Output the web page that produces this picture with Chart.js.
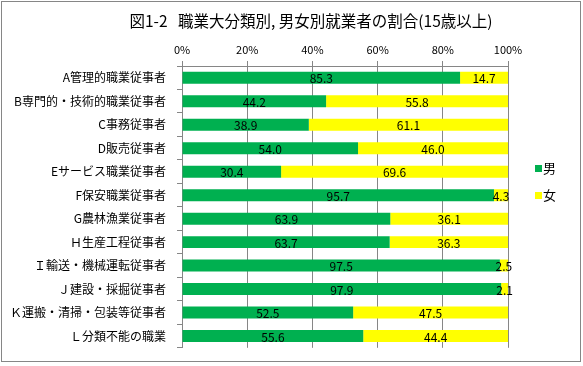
<!DOCTYPE html>
<html>
<head>
  <meta charset="UTF-8">
  <title>職業大分類別 男女別就業者の割合</title>
  <style>
    body {
      margin: 0;
      background: #fff;
    }
    #chart {
      display: block;
    }
  </style>
  <script src="https://cdn.jsdelivr.net/npm/chart.js"></script>
</head>
<body>
  <canvas id="chart" width="583" height="366"></canvas>
  <script>
    const categories = [
      'A管理的職業従事者',
      'B専門的・技術的職業従事者',
      'C事務従事者',
      'D販売従事者',
      'Eサービス職業従事者',
      'F保安職業従事者',
      'G農林漁業従事者',
      'Ｈ生産工程従事者',
      'Ｉ輸送・機械運転従事者',
      'Ｊ建設・採掘従事者',
      'Ｋ運搬・清掃・包装等従事者',
      'Ｌ分類不能の職業'
    ];
    const male = [85.3, 44.2, 38.9, 54.0, 30.4, 95.7, 63.9, 63.7, 97.5, 97.9, 52.5, 55.6];
    const female = [14.7, 55.8, 61.1, 46.0, 69.6, 4.3, 36.1, 36.3, 2.5, 2.1, 47.5, 44.4];
    const tickLabels = ['0%', '20%', '40%', '60%', '80%', '100%'];

    const FONT = '"Noto Sans CJK JP", "Noto Sans", sans-serif';
    const GRID = '#868686';

    // value labels in the middle of each segment
    const valueLabels = {
      id: 'valueLabels',
      afterDatasetsDraw(chart) {
        const ctx = chart.ctx;
        ctx.save();
        ctx.font = '12px ' + FONT;
        ctx.fillStyle = '#000';
        ctx.textAlign = 'center';
        ctx.textBaseline = 'middle';
        chart.data.datasets.forEach((ds, i) => {
          chart.getDatasetMeta(i).data.forEach((bar, j) => {
            const cx = (bar.x + bar.base) / 2;
            ctx.fillText(ds.data[j].toFixed(1), cx, bar.y + 1);
          });
        });
        ctx.restore();
      }
    };

    // simple legend on the right + outer frame
    const sideLegend = {
      id: 'sideLegend',
      afterDraw(chart) {
        const ctx = chart.ctx;
        ctx.save();
        ctx.strokeStyle = GRID;
        ctx.lineWidth = 1;
        ctx.strokeRect(1.5, 1.5, 579, 360);
        ctx.font = '13px ' + FONT;
        ctx.textBaseline = 'middle';
        ctx.textAlign = 'left';
        chart.data.datasets.forEach((ds, i) => {
          const y = 165 + i * 27;
          ctx.fillStyle = ds.backgroundColor;
          ctx.fillRect(535, y, 7, 7);
          ctx.fillStyle = '#000';
          ctx.fillText(ds.label, 543, y + 3.5);
        });
        ctx.restore();
      }
    };

    new Chart(document.getElementById('chart'), {
      type: 'bar',
      data: {
        labels: categories,
        datasets: [
          { label: '男', data: male, backgroundColor: '#00B050' },
          { label: '女', data: female, backgroundColor: '#FFFF00' }
        ]
      },
      options: {
        indexAxis: 'y',
        responsive: false,
        animation: false,
        categoryPercentage: 1,
        barPercentage: 0.51,
        // negative right padding moves the title centre right, like the original
        layout: {
          padding: { left: 0, right: -39, top: 0, bottom: 16 }
        },
        plugins: {
          legend: { display: false },
          tooltip: { enabled: false },
          title: {
            display: true,
            text: '図1-2   職業大分類別, 男女別就業者の割合(15歳以上)',
            color: '#000',
            font: { family: FONT, size: 15.5, weight: 'normal' },
            padding: { top: 12, bottom: 12 }
          }
        },
        scales: {
          x: {
            position: 'top',
            stacked: true,
            min: 0,
            max: 100,
            afterFit(scale) { scale.height = 23.4; },
            ticks: {
              stepSize: 20,
              color: '#000',
              font: { family: FONT, size: 11 },
              padding: 5,
              callback: (v, i) => tickLabels[i]
            },
            grid: { color: GRID, tickLength: 5 },
            border: { color: GRID }
          },
          y: {
            stacked: true,
            afterFit(scale) { scale.width = 182; },
            ticks: {
              color: '#000',
              font: { family: FONT, size: 12 },
              padding: 11
            },
            grid: { drawOnChartArea: false, color: GRID, tickLength: 5 },
            border: { color: GRID }
          },
          // empty box on the right that keeps room for the legend
          side: {
            type: 'linear',
            position: 'right',
            afterFit(scale) { scale.width = 114; },
            ticks: { display: false },
            grid: { display: false },
            border: { display: false }
          }
        }
      },
      plugins: [valueLabels, sideLegend]
    });
  </script>
</body>
</html>
